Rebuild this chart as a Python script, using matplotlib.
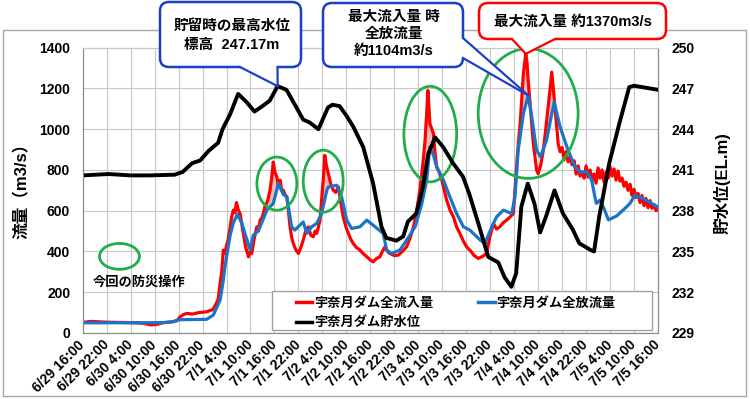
import numpy as np
import matplotlib.pyplot as plt
from matplotlib.patches import FancyBboxPatch, Polygon, Ellipse, Rectangle
from matplotlib.lines import Line2D
from matplotlib.transforms import IdentityTransform

plt.rcParams['font.family'] = ['Liberation Sans', 'Noto Sans CJK JP']

# hours counted from 6/29 16:00
xtick_labels = ['6/29 16:00', '6/29 22:00', '6/30 4:00', '6/30 10:00', '6/30 16:00',
                '6/30 22:00', '7/1 4:00', '7/1 10:00', '7/1 16:00', '7/1 22:00',
                '7/2 4:00', '7/2 10:00', '7/2 16:00', '7/2 22:00', '7/3 4:00',
                '7/3 10:00', '7/3 16:00', '7/3 22:00', '7/4 4:00', '7/4 10:00',
                '7/4 16:00', '7/4 22:00', '7/5 4:00', '7/5 10:00', '7/5 16:00']

# 宇奈月ダム全流入量 (m3/s)
inflow_h = [0, 2, 4, 6, 9, 12, 15, 17, 18.5, 20, 22, 23.6, 24.4, 25.2, 26, 27.5, 29, 31,
            32.6, 33.3, 33.9, 34.4, 34.8, 35.2, 35.6, 36.0, 36.4, 36.9, 37.3, 37.7, 38.1,
            38.5, 39.0, 39.4, 40.2, 40.8, 41.5, 42.0, 42.3, 43.0, 43.6, 44.0, 44.4, 45.0,
            45.6, 46.3, 46.9, 47.3, 47.7, 48.1, 48.6, 49.0, 49.4, 49.8, 50.2, 50.6, 51.1,
            51.5, 51.9, 52.3, 52.7, 53.3, 54.0, 54.6, 55.2, 55.8, 56.5, 57.1, 57.7, 58.2,
            58.6, 59.0, 59.4, 59.8, 60.2, 60.6, 61.0, 61.5, 62.1, 62.7, 63.3, 64.0, 64.6,
            65.2, 65.9, 66.5, 67.1, 67.7, 68.5, 69.4, 70.2, 71.1, 71.9, 72.7, 73.5, 74.4,
            75.0, 75.7, 76.3, 76.9, 78.0, 79.0, 80.0, 81.1, 82.0, 82.8, 83.6, 84.4, 85.1,
            85.7, 86.1, 86.4, 86.7, 86.9, 87.4, 87.8, 88.2, 88.6, 89.2, 89.9, 90.5, 91.1,
            92.0, 92.8, 93.6, 94.4, 95.3, 96.1, 96.9, 98.0, 99.0, 100.0, 101.1, 101.9,
            102.3, 102.8, 103.6, 104.4, 105.2, 106.1, 107.0, 107.8, 108.2, 108.6, 109.0,
            109.5, 109.9, 110.3, 110.9, 111.2, 111.5, 112.0, 112.4, 112.8, 113.2, 113.6,
            114.0, 114.6, 115.3, 115.9, 116.5, 117.0, 117.4, 117.8, 118.2, 118.8,
            119, 119.5, 120, 120.5, 121, 121.5, 122, 122.5, 123, 123.5, 124, 124.5, 125,
            125.5, 126, 126.5, 127, 127.5, 128, 128.5, 129, 129.5, 130, 130.5, 131, 131.5,
            132, 132.5, 133, 133.5, 134, 134.5, 135, 135.5, 136, 136.5, 137, 137.5, 138,
            138.5, 139, 139.5, 140, 140.5, 141, 141.5, 142, 142.5, 143, 143.5, 144]
inflow_q = [52, 57, 55, 53, 52, 51, 48, 40, 42, 50, 54, 60, 80, 90, 96, 93, 100, 104,
            115, 140, 165, 245, 300, 407, 390, 430, 456, 521, 570, 603, 590,
            640, 600, 586, 489, 420, 374, 400, 390, 470, 521, 500, 554, 570,
            619, 650, 701, 760, 839, 790, 766, 720, 750, 700, 701, 680, 668,
            600, 521, 470, 440, 410, 390, 420, 456, 500, 521, 480, 472, 500,
            489, 520, 554, 650, 750, 872, 820, 782, 730, 701, 690, 717, 640,
            570, 520, 489, 460, 440, 420, 407, 390, 374, 360, 349, 365, 374,
            400, 423, 400, 390, 380, 382, 400, 423, 470, 521, 600, 701, 820,
            946, 1080, 1190, 1100, 1027, 1000, 979, 880, 815, 790, 750, 700, 652,
            600, 570, 520, 489, 450, 423, 407, 380, 366, 375, 390, 472,
            500, 538, 510, 521, 540, 554, 570, 586, 700, 815, 920,
            1027, 1150, 1272, 1370, 1330, 1240, 1120, 1027, 930, 864, 800,
            782, 820, 897, 1000, 1109, 1200, 1280, 1200, 1109, 980,
            930, 890, 910, 850, 890, 840, 860, 825, 845, 780, 820, 770, 790,
            760, 820, 765, 800, 745, 780, 735, 810, 760, 800, 740, 790, 760,
            815, 770, 805, 750, 795, 745, 760, 720, 740, 700, 730, 675, 705,
            665, 685, 640, 675, 625, 660, 615, 650, 612, 630, 600, 615]

# 宇奈月ダム全放流量 (m3/s)
outflow_h = [0, 10, 20, 22.7, 23.9, 27, 31, 32.7, 34.4, 35.2, 35.6, 36.9, 37.7, 38.7,
             39.8, 40.6, 41.9, 42.7, 43.6, 44.4, 46.1, 47.7, 49.0, 50.2, 51.1, 52.3, 53.1,
             55.2, 56.1, 57.3, 58.6, 59.8, 61.1, 61.5, 63.6, 64.8, 66.1, 67.3, 69.4, 71.1,
             72.7, 75.2, 76.1, 77.3, 79.4, 81.1, 83.2, 84.9, 86.1, 86.9, 87.8, 88.6, 90.3,
             91.9, 93.6, 95.3, 96.9, 99.5, 100.7, 102.4, 103.6, 105.3, 107.4, 108.2, 109.0,
             110.3, 111.5, 112.4, 113.6, 114.6, 116.1, 118.0, 119.5, 121.2, 123.2, 124.5,
             126.2, 127.4, 128.2, 128.6, 129.5, 130.3, 131.6, 133.7, 135.7, 137.0, 138.2,
             140.3, 142.4, 144]
outflow_q = [50, 50, 51, 55, 65, 66, 67, 88, 162, 260, 325, 480, 540, 582,
             540, 489, 407, 480, 495, 521, 603, 636, 734, 680, 668, 521, 505,
             545, 489, 521, 538, 586, 700, 717, 725, 668, 554, 513, 521, 554,
             529, 489, 407, 390, 407, 456, 521, 636, 750, 913, 872, 815, 750,
             668, 586, 521, 505, 456, 440, 521, 570, 603, 586, 668, 897,
             1076, 1166, 1060, 897, 864, 946, 1133, 1011, 913, 815, 790,
             790, 750, 668, 636, 652, 619, 555, 575, 611, 636, 676,
             660, 636, 618]

# 宇奈月ダム貯水位 (EL.m)
level_h = [0, 6.5, 12, 16.5, 23, 25, 27.4, 29.4, 31.5, 33.9, 35, 36.9, 38.9, 41, 43,
           45, 46.8, 48.8, 51, 53.5, 55.2, 56.8, 59, 61.4, 62.5, 64.3, 66, 67.7, 70.2,
           72.7, 74.8, 76, 78.5, 80.2, 81.4, 83.5, 85.2, 86.5, 88.2, 90.2, 92.7, 95.2,
           96.8, 99.3, 101.5, 104, 105.6, 107.3, 108.5, 109.8, 111.4, 113.1, 114.5, 116,
           118.1, 120.2, 122.7, 124.3, 127.2, 128, 129.3, 131.8, 134.3, 136.8, 138, 144]
level_m = [240.6, 240.7, 240.6, 240.6, 240.65, 240.85, 241.5, 241.7, 242.4, 243.0, 244.0,
           245.1, 246.6, 246.0, 245.3, 245.7, 246.1, 247.17, 246.9, 245.6, 244.7, 244.5,
           244.0, 245.6, 245.8, 245.7, 245.0, 244.2, 242.7, 240.0, 236.8, 236.0, 235.8,
           236.1, 237.2, 237.8, 239.8, 242.2, 243.4, 242.7, 241.5, 240.5, 239.2, 236.8,
           234.6, 234.2, 233.1, 232.4, 233.4, 238.3, 240.0, 238.5, 236.4, 237.6, 239.5,
           237.8, 236.6, 235.6, 235.1, 235.0, 237.6, 241.5, 244.4, 247.1, 247.2, 246.9]

# highlighted flood peaks (green circles): centre hour, centre flow, width h, height
circles = [(48.6, 733, 10, 261), (60.2, 745, 10, 304), (87.0, 976, 13.2, 469),
           (111.5, 1077, 25, 637)]
pink_windows = [(44, 52), (57.5, 63.5), (83, 90), (107, 119)]

RED, BLUE, GREEN = '#ff0000', '#1a75c9', '#1fae4b'
BOXBLUE = '#1c3fc4'
GRID, SPINE = '#c8c8c8', '#8a8a8a'
W, H = 750, 399

fig = plt.figure(figsize=(7.5, 3.99), dpi=100)
ax = fig.add_axes([82.7 / W, 66 / H, 575.3 / W, 285.3 / H])
ax2 = ax.twinx()

for a, b in pink_windows:
    tt = np.linspace(a, b, 600)
    r = np.interp(tt, inflow_h, inflow_q)
    o = np.interp(tt, outflow_h, outflow_q)
    ax.fill_between(tt, o, r, where=r > o, interpolate=True, color='#f6b9b9', lw=0)

ax.plot(inflow_h, inflow_q, color=RED, lw=2.3, solid_joinstyle='round')
ax.plot(outflow_h, outflow_q, color=BLUE, lw=2.3, solid_joinstyle='round')
ax2.plot(level_h, level_m, color='black', lw=2.8, solid_joinstyle='round')

for cx, cy, cw, ch in circles:
    ax.add_patch(Ellipse((cx, cy), cw, ch, fill=False, ec=GREEN, lw=2.0, zorder=5))
ax.add_patch(Ellipse((9.2, 376), 10, 127, fill=False, ec=GREEN, lw=2.0, zorder=5))
ax.text(14.2, 251, '今回の防災操作', ha='center', va='center', fontsize=9.5,
        fontweight='bold', family=['Noto Sans CJK JP'])

ax.set_xlim(0, 144)
ax.set_ylim(0, 1400)
ax.set_xticks(np.arange(0, 145, 6))
ax.set_xticklabels(xtick_labels, rotation=45, ha='right', va='center',
                   rotation_mode='anchor', fontsize=9.5, fontweight='bold')
ax.set_yticks(range(0, 1401, 200))
ax.tick_params(axis='both', length=0, labelsize=10)
ax.tick_params(axis='x', pad=7)
ax.tick_params(axis='y', pad=9)
for lb in ax.get_yticklabels():
    lb.set_fontweight('bold')
ax.grid(color=GRID, lw=0.8)
ax.set_axisbelow(True)

ax2.set_ylim(229, 250)
ax2.set_yticks(range(229, 251, 3))
ax2.tick_params(axis='y', length=0, labelsize=10, pad=10)
for lb in ax2.get_yticklabels():
    lb.set_fontweight('bold')

for a in (ax, ax2):
    for side in ('left', 'bottom', 'right'):
        a.spines[side].set_color(SPINE)
    a.spines['top'].set_color(GRID)

# legend: box drawn separately so the free space sits on the right like the original
ax2.add_patch(Rectangle((0.329, 0.011), 0.66, 0.137, transform=ax2.transAxes,
                        fc='white', ec='#a0a0a0', lw=1.0, zorder=4))
handles = [Line2D([], [], color=RED, lw=2.5), Line2D([], [], color='black', lw=2.5),
           Line2D([], [], color=BLUE, lw=2.5)]
labels = ['宇奈月ダム全流入量', '宇奈月ダム貯水位', '宇奈月ダム全放流量']
ax2.legend(handles, labels, ncol=2, loc='upper left', frameon=False,
           bbox_to_anchor=(0.370, 0.131), borderaxespad=0, borderpad=0,
           handlelength=1.25, handletextpad=0.15, labelspacing=0.42, columnspacing=3.4,
           prop={'family': ['Noto Sans CJK JP'], 'weight': 'bold', 'size': 9.5})

fig.text(22 / W, 1 - 187 / H, '流量（m3/s）', rotation=90, ha='center', va='center',
         fontsize=12, fontweight='bold')
fig.text(722 / W, 1 - 183 / H, '貯水位(EL.m)', rotation=90, ha='center', va='center',
         fontsize=12, fontweight='bold')

ident = IdentityTransform()
fig.patches.append(Rectangle((3, H - 396), 743, 366, fill=False, ec='#a8a8a8', lw=1.0,
                             transform=ident, figure=fig, zorder=-1))


def callout(x0, y0, x1, y1, color, lines, text_y, text_x, b1, b2, inward, tip):
    # box given in image pixels (y down); tip in display coords
    box = FancyBboxPatch((x0, H - y1), x1 - x0, y1 - y0,
                         boxstyle='round,pad=0,rounding_size=9', fc='white', ec=color,
                         lw=1.8, transform=ident, figure=fig, zorder=10)
    fig.patches.append(box)
    p1 = (b1[0], H - b1[1])
    p2 = (b2[0], H - b2[1])
    q1 = (p1[0] + inward[0], p1[1] + inward[1])
    q2 = (p2[0] + inward[0], p2[1] + inward[1])
    fig.patches.append(Polygon([q1, p1, tip, p2, q2], closed=True, fc='white', ec='none',
                               transform=ident, figure=fig, zorder=11))
    for p in (p1, p2):
        fig.lines.append(Line2D([p[0], tip[0]], [p[1], tip[1]], color=color, lw=1.6,
                                transform=ident, figure=fig, zorder=12))
    for s, ty in zip(lines, text_y):
        fig.text(text_x / W, 1 - ty / H, s, ha='center', va='center', fontsize=10.5,
                 fontweight='bold', zorder=13)


# maximum storage level during the flood (first part of the record)
flood = [i for i, h in enumerate(level_h) if h < 100]
i_lv = max(flood, key=lambda i: level_m[i])
tip1 = ax2.transData.transform((level_h[i_lv], level_m[i_lv]))
i_in = int(np.argmax(inflow_q))
tip3 = ax.transData.transform((inflow_h[i_in], inflow_q[i_in]))
i_out = int(np.argmax(outflow_q))
tip2 = ax.transData.transform((outflow_h[i_out], outflow_q[i_out]))

callout(160, 2, 301, 67, BOXBLUE, ['貯留時の最高水位', '標高  247.17m'], [25.5, 45],
        232, (240, 67), (277.5, 67), (0, 3), tip1)
callout(323, 3, 463, 67, BOXBLUE, ['最大流入量 時', '全放流量', '約1104m3/s'],
        [17, 34, 51.5], 394, (463, 38), (463, 58), (-3, 0), tip2)
callout(479, 3, 666, 39, RED, ['最大流入量 約1370m3/s'], [21.5], 573,
        (512, 39), (555, 39), (0, 3), tip3)

fig.savefig('out.png', dpi=100)
